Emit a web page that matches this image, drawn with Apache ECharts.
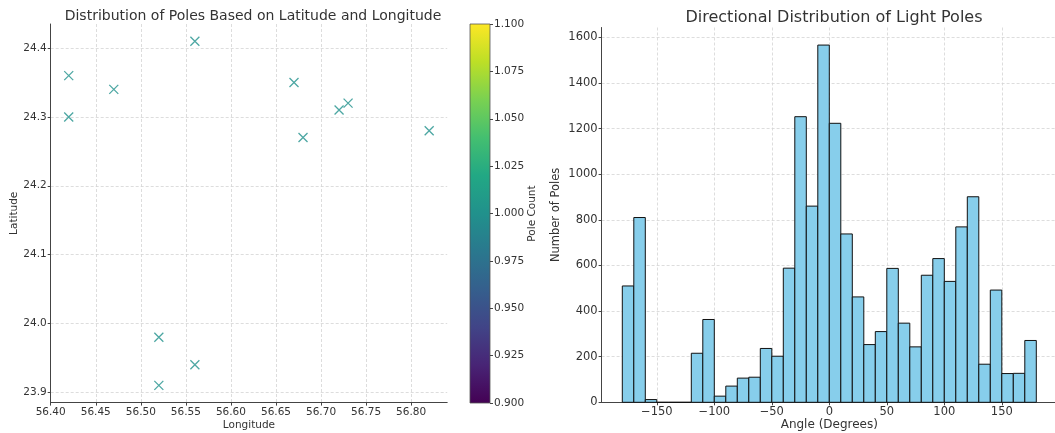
<!DOCTYPE html>
<html>
<head>
<meta charset="utf-8">
<script src="https://cdn.jsdelivr.net/npm/echarts@6/dist/echarts.min.js"></script>
<style>
  html, body { margin: 0; padding: 0; background: #fff; }
  #chart { width: 1055px; height: 433px; }
</style>
</head>
<body>
<div id="chart"></div>
<script>
// scatter: pole positions
const poleLon = [56.42, 56.42, 56.47, 56.56, 56.67, 56.68, 56.72, 56.73, 56.82, 56.52, 56.56, 56.52];
const poleLat = [24.36, 24.30, 24.34, 24.41, 24.35, 24.27, 24.31, 24.32, 24.28, 23.98, 23.94, 23.91];
const lonTicks = [56.40, 56.45, 56.50, 56.55, 56.60, 56.65, 56.70, 56.75, 56.80];
const latTicks = [23.9, 24.0, 24.1, 24.2, 24.3, 24.4];
const colorbarTicks = [0.900, 0.925, 0.950, 0.975, 1.000, 1.025, 1.050, 1.075, 1.100];

// histogram: left bin edges (width 10) and counts
const binStarts = [-180, -170, -160, -150, -140, -130, -120, -110, -100, -90, -80, -70,
  -60, -50, -40, -30, -20, -10, 0, 10, 20, 30, 40, 50,
  60, 70, 80, 90, 100, 110, 120, 130, 140, 150, 160, 170];
const binCounts = [510, 810, 12, 0, 0, 0, 215, 363, 27, 71, 106, 110,
  236, 202, 588, 1252, 860, 1566, 1223, 738, 462, 253, 310, 587,
  347, 243, 557, 630, 530, 769, 901, 167, 492, 126, 127, 271];
const binWidth = 10;
const angleTicks = [-150, -100, -50, 0, 50, 100, 150];
const countTicks = [0, 200, 400, 600, 800, 1000, 1200, 1400, 1600];

const viridis = ['#440154', '#482475', '#414487', '#355f8d', '#2a788e', '#21918c',
  '#22a884', '#44bf70', '#7ad151', '#bddf26', '#fde725'];

const chart = echarts.init(document.getElementById('chart'), null, { renderer: 'canvas' });

const font = 'DejaVu Sans';
const textColor = '#333';
const axisColor = '#444';
const gridLine = { show: true, lineStyle: { color: '#d4d4d4', width: 0.8, type: [3, 2] } };

function minus(v) {
  return v < 0 ? '\u2212' + Math.abs(v) : String(v);
}

const scatterData = poleLon.map((lon, i) => [lon, poleLat[i]]);
const histData = binStarts.map((b, i) => [b, b + binWidth, binCounts[i]]);

const option = {
  backgroundColor: '#fff',
  animation: false,
  title: [
    {
      text: 'Distribution of Poles Based on Latitude and Longitude',
      left: 248, top: 4, textAlign: 'center',
      textStyle: { fontFamily: font, fontWeight: 'normal', fontSize: 14, color: textColor }
    },
    {
      text: 'Directional Distribution of Light Poles',
      left: 829, top: 5, textAlign: 'center',
      textStyle: { fontFamily: font, fontWeight: 'normal', fontSize: 16, color: textColor }
    }
  ],
  grid: [
    { left: 50.7, top: 24, width: 396.5, height: 378.6, outerBoundsMode: 'none' },
    {
      left: 470, top: 24, width: 20, height: 379, show: true, outerBoundsMode: 'none',
      borderColor: '#555', borderWidth: 0.8,
      backgroundColor: new echarts.graphic.LinearGradient(0, 1, 0, 0,
        viridis.map((c, i) => ({ offset: i / (viridis.length - 1), color: c })))
    },
    { left: 601.6, top: 27.5, width: 455.4, height: 374.8, outerBoundsMode: 'none' }
  ],
  xAxis: [
    {
      gridIndex: 0, type: 'value', min: 56.40, max: 56.84,
      name: 'Longitude', nameLocation: 'middle', nameGap: 17.5, nameMoveOverlap: false,
      nameTextStyle: { fontFamily: font, fontSize: 10.5, color: textColor },
      axisLine: { onZero: false, lineStyle: { color: axisColor, width: 1 } },
      axisTick: { show: true, length: 3, customValues: lonTicks, lineStyle: { color: axisColor } },
      axisLabel: { customValues: lonTicks, margin: 4, fontFamily: font, fontSize: 10.5, color: textColor,
        formatter: v => v.toFixed(2) },
      splitLine: gridLine
    },
    { gridIndex: 1, type: 'value', min: 0, max: 1, show: false },
    {
      gridIndex: 2, type: 'value', min: -198, max: 198,
      name: 'Angle (Degrees)', nameLocation: 'middle', nameGap: 16.5, nameMoveOverlap: false,
      nameTextStyle: { fontFamily: font, fontSize: 12, color: textColor },
      axisLine: { onZero: false, lineStyle: { color: axisColor, width: 1 } },
      axisTick: { show: true, length: 3, customValues: angleTicks, lineStyle: { color: axisColor } },
      axisLabel: { customValues: angleTicks, margin: 4, fontFamily: font, fontSize: 11.5, color: textColor,
        formatter: v => minus(v) },
      splitLine: gridLine
    }
  ],
  yAxis: [
    {
      gridIndex: 0, type: 'value', min: 23.885, max: 24.435,
      name: 'Latitude', nameLocation: 'middle', nameGap: 31, nameRotate: 90, nameMoveOverlap: false,
      nameTextStyle: { fontFamily: font, fontSize: 10.5, color: textColor },
      axisLine: { show: true, onZero: false, lineStyle: { color: axisColor, width: 1 } },
      axisTick: { show: true, length: 3, customValues: latTicks, lineStyle: { color: axisColor } },
      axisLabel: { customValues: latTicks, margin: 4, fontFamily: font, fontSize: 10.5, color: textColor,
        formatter: v => v.toFixed(1) },
      splitLine: gridLine
    },
    {
      gridIndex: 1, type: 'value', min: 0.9, max: 1.1, position: 'right',
      name: 'Pole Count', nameLocation: 'middle', nameGap: 37, nameRotate: 90, nameMoveOverlap: false,
      nameTextStyle: { fontFamily: font, fontSize: 10.5, color: textColor },
      axisLine: { show: false, onZero: false },
      axisTick: { show: true, length: 3, customValues: colorbarTicks, lineStyle: { color: axisColor } },
      axisLabel: { customValues: colorbarTicks, margin: 4, fontFamily: font, fontSize: 10.5, color: textColor,
        formatter: v => v.toFixed(3) },
      splitLine: { show: false }
    },
    {
      gridIndex: 2, type: 'value', min: 0, max: 1643,
      name: 'Number of Poles', nameLocation: 'middle', nameGap: 40, nameRotate: 90, nameMoveOverlap: false,
      nameTextStyle: { fontFamily: font, fontSize: 11.5, color: textColor },
      axisLine: { show: true, onZero: false, lineStyle: { color: axisColor, width: 1 } },
      axisTick: { show: true, length: 3, customValues: countTicks, lineStyle: { color: axisColor } },
      axisLabel: { customValues: countTicks, margin: 4, fontFamily: font, fontSize: 11.5, color: textColor,
        formatter: v => String(v) },
      splitLine: gridLine
    }
  ],
  series: [
    {
      type: 'scatter', xAxisIndex: 0, yAxisIndex: 0,
      data: scatterData,
      symbol: 'path://M0 0L10 10M0 10L10 0',
      symbolSize: 9,
      itemStyle: { color: 'rgba(0,0,0,0)', borderColor: '#21918c', borderWidth: 1.3 }
    },
    {
      type: 'custom', xAxisIndex: 2, yAxisIndex: 2,
      data: histData,
      encode: { x: [0, 1], y: 2 },
      renderItem: function (params, api) {
        const p0 = api.coord([api.value(0), 0]);
        const p1 = api.coord([api.value(1), api.value(2)]);
        return {
          type: 'rect',
          shape: { x: p0[0], y: p1[1], width: p1[0] - p0[0], height: p0[1] - p1[1] },
          style: { fill: '#87ceeb', stroke: '#111', lineWidth: 1 }
        };
      }
    }
  ]
};

chart.setOption(option);
</script>
</body>
</html>
